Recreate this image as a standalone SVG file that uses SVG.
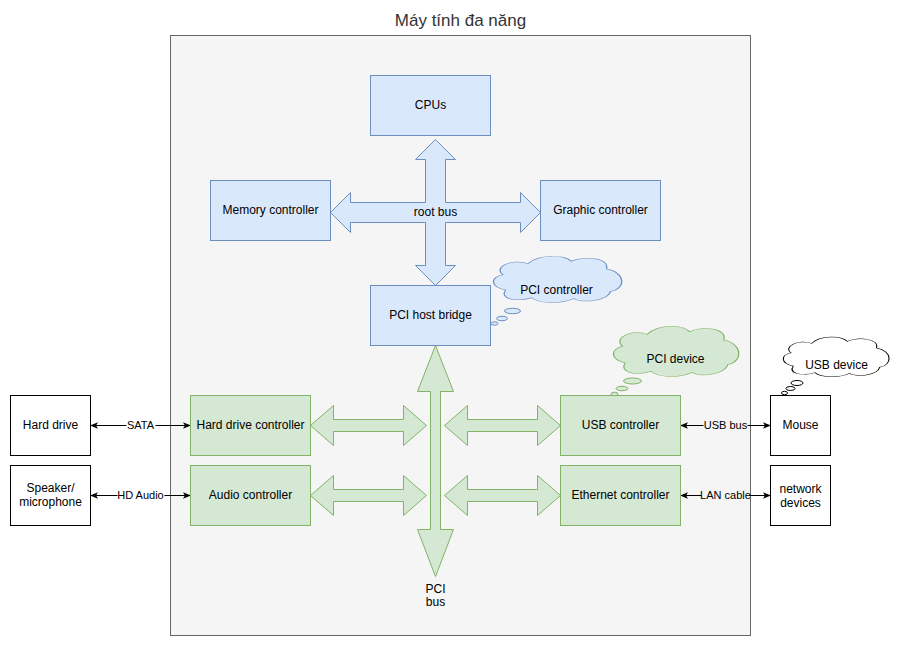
<svg xmlns="http://www.w3.org/2000/svg" width="901" height="646" viewBox="0 0 901 646">
<defs>
<style>
text{font-family:"Liberation Sans",Arial,Helvetica,sans-serif}
.b{fill:#dae8fc;stroke:#6c8ebf;stroke-width:1}
.g{fill:#d5e8d4;stroke:#82b366;stroke-width:1}
.w{fill:#ffffff;stroke:#000000;stroke-width:1}
.t{font-size:12px;text-anchor:middle;dominant-baseline:central;fill:#000000}
.e{font-size:11px;text-anchor:middle;dominant-baseline:central;fill:#000000}
.ln{stroke:#000000;stroke-width:1;fill:none;marker-start:url(#ah);marker-end:url(#ah)}
.cl{vector-effect:non-scaling-stroke}
</style>
<marker id="ah" viewBox="0 0 10 10" refX="9.5" refY="5" markerWidth="8" markerHeight="8" orient="auto-start-reverse" markerUnits="userSpaceOnUse">
<path d="M0,0.8 L10,5 L0,9.2 L2.5,5 Z" fill="#000000"/>
</marker>
<path id="cloud" d="M8 40 C0 25 15 5 27 17 C35 -3 55 -3 60 12 C70 0 90 5 87 28 C102 35 102 70 90 75 C88 95 68 100 62 90 C52 102 35 100 30 88 C18 98 5 90 10 72 C-2 65 -2 45 8 40 Z"/>
</defs>
<rect x="0" y="0" width="901" height="646" fill="#ffffff"/>
<g transform="translate(0.5 0.5)">
<g id="container">
<rect x="170" y="35" width="580" height="600" fill="#f5f5f5" stroke="#666666"/>
<text x="460" y="25.5" font-size="17" text-anchor="middle" fill="#333333">Máy tính đa năng</text>
</g>

<g id="connectors">
<polygon class="b" points="435,139 455,159 445,159 445,202 520,202 520,192 540,212 520,232 520,222 445,222 445,265 455,265 435,285 415,265 425,265 425,222 350,222 350,232 330,212 350,192 350,202 425,202 425,159 415,159"/>
<text class="t" x="435" y="211">root bus</text>
<polygon class="g" points="435,345 453,391 440,391 440,529 453,529 435,576 417,529 430,529 430,391 417,391"/>
<text class="t" x="435" y="588">PCI</text>
<text class="t" x="435" y="601">bus</text>
<polygon class="g" points="310,425 333,405 333,419 403,419 403,405 426,425 403,445 403,431 333,431 333,445"/>
<polygon class="g" points="444,425 467,405 467,419 537,419 537,405 560,425 537,445 537,431 467,431 467,445"/>
<polygon class="g" points="310,495 333,475 333,489 403,489 403,475 426,495 403,515 403,501 333,501 333,515"/>
<polygon class="g" points="444,495 467,475 467,489 537,489 537,475 560,495 537,515 537,501 467,501 467,515"/>
<line class="ln" x1="90" y1="425" x2="190" y2="425"/>
<rect x="126" y="418" width="29" height="14" fill="#ffffff"/>
<text class="e" x="140" y="424">SATA</text>
<line class="ln" x1="90" y1="495" x2="190" y2="495"/>
<rect x="117" y="488" width="47" height="14" fill="#ffffff"/>
<text class="e" x="140" y="494">HD Audio</text>
<line class="ln" x1="680" y1="425" x2="770" y2="425"/>
<rect x="703" y="418" width="44" height="14" fill="#f5f5f5"/>
<text class="e" x="725" y="424">USB bus</text>
<line class="ln" x1="680" y1="495" x2="770" y2="495"/>
<rect x="701" y="488" width="48" height="14" fill="#f5f5f5"/>
<text class="e" x="725" y="494">LAN cable</text>
</g>

<g id="cpus"><rect class="b" x="370" y="75" width="120" height="60"/><text class="t" x="430" y="104">CPUs</text></g>
<g id="memory-controller"><rect class="b" x="210" y="180" width="120" height="60"/><text class="t" x="270" y="209">Memory controller</text></g>
<g id="graphic-controller"><rect class="b" x="540" y="180" width="120" height="60"/><text class="t" x="600" y="209">Graphic controller</text></g>
<g id="pci-host-bridge"><rect class="b" x="370" y="285" width="120" height="60"/><text class="t" x="430" y="314">PCI host bridge</text></g>

<g id="pci-controller-cloud">
<use href="#cloud" class="b cl" transform="translate(492 255) scale(1.31 0.48)"/>
<ellipse class="b" cx="512" cy="310.5" rx="8" ry="2.7"/>
<ellipse class="b" cx="501.5" cy="318" rx="5.5" ry="2.2"/>
<ellipse class="b" cx="494" cy="323" rx="3.5" ry="1.7"/>
<text class="t" x="556" y="289">PCI controller</text>
</g>

<g id="hard-drive-controller"><rect class="g" x="190" y="395" width="120" height="60"/><text class="t" x="250" y="424">Hard drive controller</text></g>
<g id="audio-controller"><rect class="g" x="190" y="465" width="120" height="60"/><text class="t" x="250" y="494">Audio controller</text></g>
<g id="usb-controller"><rect class="g" x="560" y="395" width="120" height="60"/><text class="t" x="620" y="424">USB controller</text></g>
<g id="ethernet-controller"><rect class="g" x="560" y="465" width="120" height="60"/><text class="t" x="620" y="494">Ethernet controller</text></g>

<g id="pci-device-cloud">
<use href="#cloud" class="g cl" transform="translate(612 325) scale(1.28 0.52)"/>
<ellipse class="g" cx="632" cy="380.5" rx="9" ry="3"/>
<ellipse class="g" cx="621.5" cy="388" rx="6" ry="2.2"/>
<ellipse class="g" cx="614" cy="393.5" rx="3.5" ry="1.8"/>
<text class="t" x="675" y="358">PCI device</text>
</g>

<g id="hard-drive"><rect class="w" x="10" y="395" width="80" height="60"/><text class="t" x="50" y="424">Hard drive</text></g>
<g id="speaker-microphone"><rect class="w" x="10" y="465" width="80" height="60"/><text class="t" x="50" y="487">Speaker/</text><text class="t" x="50" y="501">microphone</text></g>
<g id="mouse"><rect class="w" x="770" y="395" width="60" height="60"/><text class="t" x="800" y="424">Mouse</text></g>
<g id="network-devices"><rect class="w" x="770" y="465" width="60" height="60"/><text class="t" x="800" y="488">network</text><text class="t" x="800" y="502">devices</text></g>

<g id="usb-device-cloud">
<use href="#cloud" class="w cl" transform="translate(782 336) scale(1.08 0.41)"/>
<ellipse class="w" cx="796.5" cy="382.5" rx="6" ry="2.5"/>
<ellipse class="w" cx="790" cy="388" rx="4.5" ry="2"/>
<ellipse class="w" cx="784" cy="392.5" rx="3" ry="1.7"/>
<text class="t" x="836" y="364">USB device</text>
</g>
</g>
</svg>
